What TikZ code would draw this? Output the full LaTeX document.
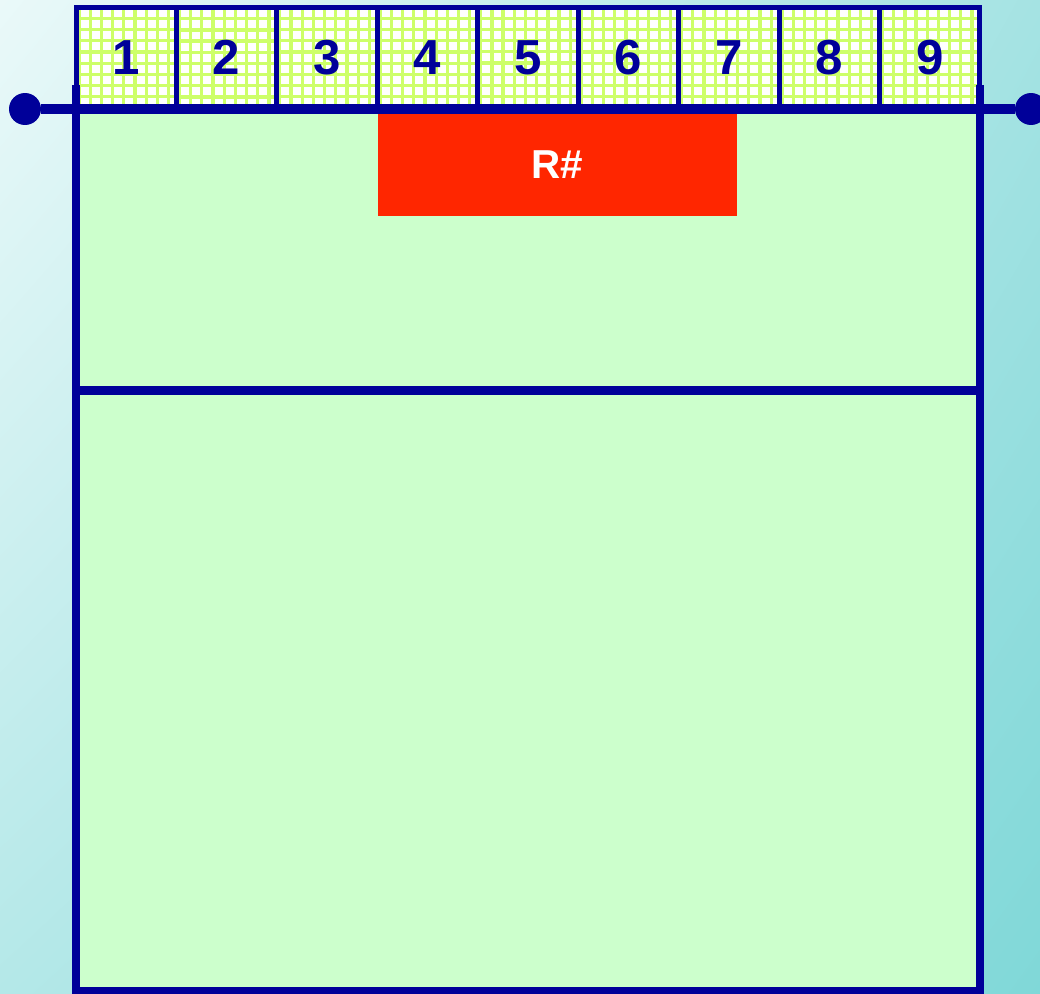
\documentclass[tikz,border=0pt]{standalone}
\usepackage{fontspec}
\setmainfont{Liberation Sans}
\usepackage{xcolor}
\usetikzlibrary{positioning,calc,shadings}
\definecolor{courtblue}{RGB}{0,0,153}
\definecolor{courtgreen}{RGB}{204,255,204}
\definecolor{gridgreen}{RGB}{205,255,105}
\definecolor{redzone}{RGB}{255,38,0}
\definecolor{bgtl}{RGB}{234,249,249}
\definecolor{bgtr}{RGB}{165,227,227}
\definecolor{bgbl}{RGB}{180,232,232}
\definecolor{bgbr}{RGB}{128,216,216}

\begin{document}
\begin{tikzpicture}[x=0.02cm, y=-0.02cm,
  cell/.style={rectangle, draw=courtblue, fill=white, line width=0.1cm,
               minimum width=2.008cm, minimum height=2.02cm, inner sep=0pt,
               text=courtblue, font=\bfseries\fontsize{28}{30}\selectfont,
               path picture={\draw[gridgreen, line width=0.065cm]
                 (path picture bounding box.south west) grid[step=0.224cm]
                 (path picture bounding box.north east);}},
  zone/.style={rectangle, fill=redzone, minimum width=7.18cm, minimum height=2.04cm,
               inner sep=0pt, text=white, font=\bfseries\fontsize{23}{25}\selectfont},
  courtline/.style={draw=courtblue, line width=0.16cm},
  netpost/.style={circle, fill=courtblue, minimum size=0.64cm, inner sep=0pt}
]
  \useasboundingbox (0,0) rectangle (1040,993);
  \shade[upper left=bgtl, upper right=bgtr, lower left=bgbl, lower right=bgbr]
    (0,0) rectangle (1040,993);

  % court
  \fill[courtgreen] (76,108) rectangle (980,993);

  % positions along the net
  \foreach \i in {1,...,9}
    \node[cell] (c\i) at ({76+100.44*(\i-0.5)}, 57.5) {\i};

  \node[zone] (R) at (557.5,165) {\raisebox{-1.6pt}{R\#}};

  \draw[courtline] (76,85) -- (76,991) -- (980,991) -- (980,85);
  \draw[courtline, line width=0.18cm] (76,390) -- (980,390);

  % net
  \node[netpost] (pl) at (25,109) {};
  \node[netpost] (pr) at (1031,109) {};
  \draw[courtblue, line width=0.2cm] (pl) -- (pr);
\end{tikzpicture}
\end{document}
